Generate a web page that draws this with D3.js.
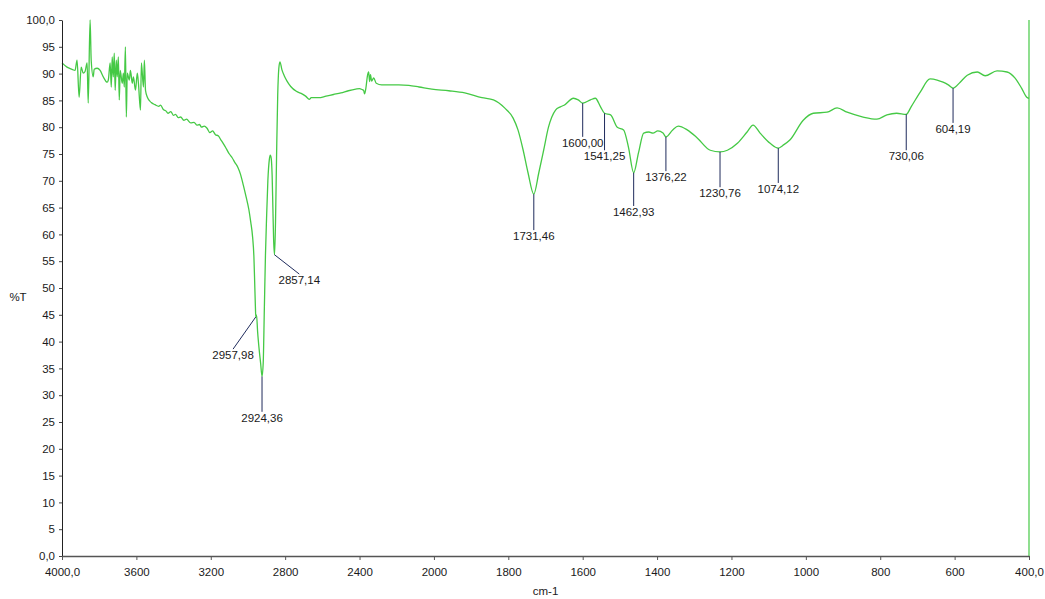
<!DOCTYPE html>
<html>
<head>
<meta charset="utf-8">
<script src="https://cdn.jsdelivr.net/npm/d3@7/dist/d3.min.js"></script>
<style>
  html, body { margin: 0; padding: 0; background: #fff; }
  svg { display: block; }
  text { font-family: "Liberation Sans", Arial, sans-serif; }
</style>
</head>
<body>
<svg id="chart" width="1045" height="599"></svg>
<script>
// IR spectrum: wavenumber (cm-1) and transmittance (%T)
const wavenumbers = [
  4000, 3973, 3946, 3930, 3919, 3908, 3897, 3886, 3876, 3865, 3859, 3849, 3843, 3832, 3827,
  3811, 3795, 3778, 3757, 3751, 3741, 3735, 3730, 3724, 3719, 3714, 3708, 3703, 3697, 3692,
  3687, 3676, 3670, 3665, 3659, 3654, 3649, 3638, 3632, 3622, 3616, 3605, 3595, 3589, 3578,
  3573, 3562, 3557, 3551, 3541, 3520, 3500, 3480, 3470, 3455, 3440, 3430, 3415, 3400, 3390,
  3375, 3362, 3345, 3330, 3308, 3290, 3275, 3260, 3250, 3235, 3220, 3205, 3190, 3175, 3160,
  3145, 3130, 3115, 3100, 3085, 3070, 3054, 3040, 3025, 3010, 2995, 2985, 2975, 2968, 2963,
  2960, 2957.98, 2954, 2948, 2940, 2932, 2924.36, 2918, 2912, 2906, 2900, 2893, 2885, 2880, 2875,
  2870, 2866, 2862, 2857.14, 2852, 2846, 2840, 2834, 2828, 2818, 2805, 2790, 2770, 2740, 2714,
  2690, 2670, 2660, 2620, 2580, 2540, 2500, 2460, 2420, 2400, 2385, 2378, 2373, 2365, 2358,
  2351, 2346, 2341, 2335, 2324, 2310, 2281, 2240, 2189, 2135, 2080, 2011, 1960, 1917, 1871,
  1840, 1810, 1787, 1774, 1760, 1747, 1731.46, 1718, 1705, 1692, 1673, 1660, 1650, 1625, 1612,
  1600, 1579, 1566, 1552, 1541.25, 1525, 1507, 1490, 1477, 1462.93, 1450, 1436, 1422, 1411, 1398,
  1384, 1376.22, 1358, 1343, 1319, 1292, 1257, 1230.76, 1211, 1184, 1158, 1142, 1123, 1096, 1074.12,
  1062, 1043, 1007, 980, 943, 916, 889, 846, 809, 782, 756, 730.06, 717, 692, 666,
  647, 631, 617, 604.19, 585, 566, 539, 518, 486, 459, 438, 420, 406, 400
];
const transmittance = [
  92.0, 91.2, 90.8, 90.6, 92.5, 85.6, 91.2, 90.1, 90.4, 92.0, 84.5, 100.0, 92.5, 89.4, 90.8,
  91.0, 90.6, 89.4, 88.4, 88.8, 92.0, 87.5, 93.1, 89.4, 93.8, 86.9, 92.5, 89.4, 93.1, 85.1,
  90.6, 88.2, 90.1, 87.5, 95.0, 81.9, 90.1, 88.8, 90.6, 88.2, 89.4, 86.9, 90.1, 88.2, 83.2,
  92.0, 87.5, 92.5, 86.9, 85.6, 84.6, 84.2, 83.9, 84.1, 83.3, 83.0, 82.6, 82.9, 82.2, 82.4,
  81.8, 81.9, 81.3, 81.5, 80.8, 80.9, 80.4, 80.5, 80.0, 80.2, 79.8, 79.0, 79.3, 78.6, 78.4,
  77.6, 76.8, 75.9, 75.0, 74.3, 73.4, 72.5, 71.2, 69.2, 67.0, 64.6, 62.3, 59.5, 55.8, 50.0,
  46.5, 44.6, 45.0, 41.8, 38.6, 36.0, 33.5, 36.0, 46.0, 56.0, 63.0, 70.0, 74.0, 74.8, 74.2,
  71.0, 65.0, 59.0, 56.2, 62.0, 75.0, 86.0, 91.0, 92.2, 90.8, 89.6, 88.6, 87.6, 86.7, 86.3,
  85.8, 85.2, 85.5, 85.5, 85.8, 86.1, 86.4, 86.8, 87.1, 87.2, 87.0, 86.9, 86.2, 87.5, 89.5,
  90.3, 88.5, 89.8, 88.6, 89.2, 88.2, 87.9, 87.9, 87.9, 87.8, 87.5, 87.1, 86.8, 86.4, 85.5,
  85.1, 83.6, 81.7, 79.5, 75.7, 71.5, 67.5, 71.5, 75.7, 80.0, 83.2, 83.8, 84.1, 85.4, 85.1,
  84.5, 85.1, 85.4, 83.8, 82.6, 82.3, 80.0, 79.5, 76.3, 71.5, 75.2, 78.9, 79.1, 78.9, 79.3,
  78.9, 78.2, 79.5, 80.2, 79.5, 78.0, 75.7, 75.4, 75.7, 77.0, 79.1, 80.4, 78.9, 77.0, 76.1,
  76.6, 77.6, 81.3, 82.6, 82.8, 83.6, 82.8, 81.9, 81.5, 82.3, 82.6, 82.4, 83.8, 86.6, 89.0,
  88.8, 88.4, 87.9, 87.3, 88.4, 89.7, 90.3, 89.6, 90.5, 90.3, 89.2, 87.3, 85.6, 85.4
];

// Picked peaks: position, %T at the peak, and where the label sits (cm-1, %T)
const peakPositions = [2957.98, 2924.36, 2857.14, 1731.46, 1600.00, 1541.25, 1462.93, 1376.22, 1230.76, 1074.12, 730.06, 604.19];
const peakValues    = [44.6, 33.5, 56.2, 67.5, 84.5, 82.6, 71.5, 78.2, 75.4, 76.1, 82.4, 87.3];
const labelAtCm     = [3080, 2924.36, 2724, 1731.46, 1600.00, 1541.25, 1462.93, 1376.22, 1230.76, 1074.12, 730.06, 604.19];
const labelAtT      = [38.6, 26.9, 52.6, 60.8, 78.2, 75.7, 65.3, 71.8, 68.8, 69.6, 75.7, 80.8];
const peakLabels    = ["2957,98", "2924,36", "2857,14", "1731,46", "1600,00", "1541,25", "1462,93", "1376,22", "1230,76", "1074,12", "730,06", "604,19"];

// Axis ticks
const xTicks = [4000, 3600, 3200, 2800, 2400, 2000, 1800, 1600, 1400, 1200, 1000, 800, 600, 400];
const xTickLabels = ["4000,0", "3600", "3200", "2800", "2400", "2000", "1800", "1600", "1400", "1200", "1000", "800", "600", "400,0"];
const yTicks = [0, 5, 10, 15, 20, 25, 30, 35, 40, 45, 50, 55, 60, 65, 70, 75, 80, 85, 90, 95, 100];
const yTickLabels = ["0,0", "5", "10", "15", "20", "25", "30", "35", "40", "45", "50", "55", "60", "65", "70", "75", "80", "85", "90", "95", "100,0"];

const svg = d3.select("#chart");
const plotLeft = 62, plotRight = 1029, plotTop = 20, plotBottom = 556;

// Wavenumber axis is expanded 2x below 2000 cm-1
const x = d3.scaleLinear()
  .domain([4000, 2000, 400])
  .range([plotLeft, plotLeft + (plotRight - plotLeft) * 5 / 13, plotRight]);
const y = d3.scaleLinear().domain([0, 100]).range([plotBottom, plotTop]);

const green = "#45c945";
const markColor = "#1f2b5c";
const textColor = "#1a1a1a";

// Spectrum trace (monotone smoothing keeps every band minimum in place)
const points = wavenumbers.map((w, i) => [w, transmittance[i]]);
svg.append("path")
  .datum(points)
  .attr("fill", "none")
  .attr("stroke", green)
  .attr("stroke-width", 1.3)
  .attr("stroke-linejoin", "round")
  .attr("d", d3.line().curve(d3.curveMonotoneX).x(d => x(d[0])).y(d => y(d[1])));

// Right-hand edge marker of the scan range
svg.append("line")
  .attr("x1", x(400)).attr("x2", x(400))
  .attr("y1", y(0)).attr("y2", y(100))
  .attr("stroke", green).attr("stroke-width", 1.2);

// Y axis
const yAxis = svg.append("g")
  .attr("transform", `translate(${plotLeft},0)`)
  .call(d3.axisLeft(y).tickValues(yTicks).tickSize(3).tickSizeOuter(0).tickPadding(4)
    .tickFormat((d, i) => yTickLabels[i]));
yAxis.select(".domain").attr("stroke", "#222").attr("stroke-width", 1);
yAxis.selectAll(".tick line").attr("stroke", "#444");
yAxis.selectAll(".tick text").attr("fill", textColor).style("font-size", "11.5px");

// X axis
const xAxis = svg.append("g")
  .attr("transform", `translate(0,${plotBottom})`)
  .call(d3.axisBottom(x).tickValues(xTicks).tickSize(4).tickSizeOuter(0).tickPadding(8)
    .tickFormat((d, i) => xTickLabels[i]));
xAxis.select(".domain").attr("stroke", "#555").attr("stroke-width", 1.6);
xAxis.selectAll(".tick line").attr("stroke", "#555");
xAxis.selectAll(".tick text").attr("fill", textColor).style("font-size", "11.5px");

// Axis titles
svg.append("text")
  .attr("x", 18).attr("y", 297).attr("dy", "0.35em")
  .attr("text-anchor", "middle").attr("fill", textColor)
  .style("font-size", "11.5px").text("%T");
svg.append("text")
  .attr("x", (plotLeft + plotRight) / 2).attr("y", 591).attr("dy", "0.35em")
  .attr("text-anchor", "middle").attr("fill", textColor)
  .style("font-size", "11.5px").text("cm-1");

// Peak markers and labels
const peaks = peakPositions.map((p, i) => ({
  p, v: peakValues[i], lx: labelAtCm[i], lv: labelAtT[i], label: peakLabels[i]
}));
const pg = svg.append("g");
pg.selectAll("line").data(peaks).join("line")
  .attr("x1", d => x(d.p)).attr("y1", d => y(d.v))
  .attr("x2", d => x(d.lx)).attr("y2", d => y(d.lv))
  .attr("stroke", markColor).attr("stroke-width", 1);
pg.selectAll("text").data(peaks).join("text")
  .attr("x", d => x(d.lx)).attr("y", d => y(d.lv) + 10)
  .attr("text-anchor", "middle").attr("fill", textColor)
  .style("font-size", "11.5px")
  .text(d => d.label);
</script>
</body>
</html>
